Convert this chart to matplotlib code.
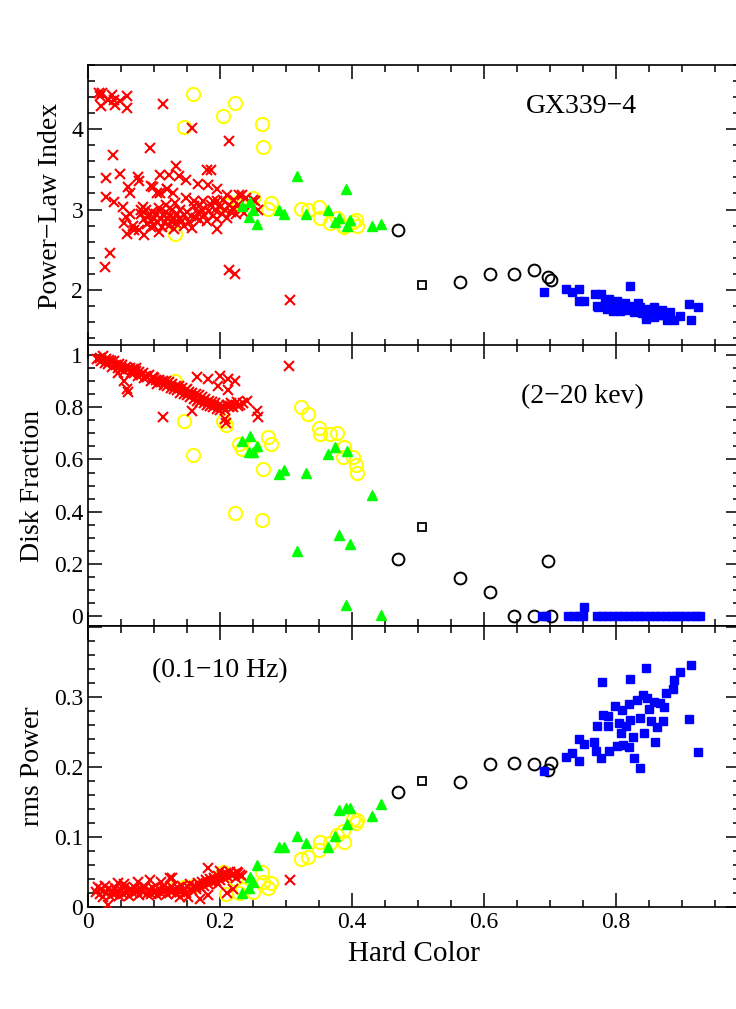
import matplotlib
matplotlib.use("Agg")
import matplotlib.pyplot as plt
from matplotlib.ticker import MultipleLocator

plt.rcParams['font.family'] = ['Liberation Serif', 'DejaVu Serif']

# ---------------- data ----------------
# black open circles (shared hard color)
bc_x = [0.469, 0.564, 0.609, 0.646, 0.675, 0.6965, 0.7015]
bc_idx = [2.745, 2.095, 2.20, 2.20, 2.25, 2.16, 2.12]
bc_disk = [0.22, 0.146, 0.092, 0.0, 0.0, 0.21, 0.0]
bc_rms = [0.164, 0.178, 0.204, 0.206, 0.204, 0.196, 0.205]

# black open square
bs_x = [0.506]
bs_idx = [2.06]
bs_disk = [0.342]
bs_rms = [0.180]

# green triangles
g_x = [0.234, 0.244, 0.245, 0.250, 0.256, 0.289, 0.297, 0.317, 0.331, 0.363,
       0.374, 0.381, 0.391, 0.393, 0.397, 0.430, 0.4435]
g_idx = [3.045, 2.91, 3.09, 3.00, 2.82, 2.995, 2.94, 3.42, 2.95, 2.995,
         2.845, 2.895, 3.25, 2.80, 2.87, 2.795, 2.825]
g_disk = [0.672, 0.629, 0.691, 0.627, 0.65, 0.543, 0.559, 0.251, 0.547, 0.620,
          0.648, 0.31, 0.043, 0.632, 0.277, 0.466, 0.004]
g_rms = [0.0205, 0.027, 0.043, 0.035, 0.06, 0.086, 0.085, 0.101, 0.091, 0.085,
         0.101, 0.139, 0.141, 0.119, 0.141, 0.13, 0.147]

# yellow open circles
y_x = [0.1586, 0.146, 0.205, 0.222, 0.264, 0.265, 0.132, 0.229, 0.2505, 0.277,
       0.273, 0.2086, 0.234, 0.322, 0.333, 0.350, 0.3515, 0.366, 0.377, 0.388,
       0.387, 0.402, 0.406, 0.407]
y_idx = [4.44, 4.03, 4.17, 4.33, 4.06, 3.78, 2.70, 3.10, 3.14, 3.08,
         3.01, 3.05, 3.06, 3.01, 3.00, 3.03, 2.895, 2.83, 2.89, 2.78,
         2.80, 2.85, 2.875, 2.79]
y_disk = [0.617, 0.748, 0.748, 0.397, 0.37, 0.563, 0.90, 0.661, 0.646, 0.661,
          0.687, 0.732, 0.642, 0.801, 0.774, 0.719, 0.697, 0.698, 0.70, 0.646,
          0.611, 0.61, 0.578, 0.547]
y_rms = [0.030, 0.029, 0.050, 0.040, 0.050, 0.035, 0.027, 0.0195, 0.022, 0.034,
         0.027, 0.0186, 0.025, 0.068, 0.071, 0.081, 0.093, 0.091, 0.103, 0.093,
         0.108, 0.125, 0.120, 0.124]

# red crosses - panel 1 (power-law index)
r1_x = [0.016, 0.021, 0.018, 0.036, 0.039, 0.041, 0.019, 0.059, 0.059, 0.048, 0.031,
        0.113, 0.157, 0.214, 0.094, 0.038, 0.028, 0.048, 0.061, 0.063, 0.028, 0.040,
        0.053, 0.076, 0.078, 0.109, 0.123, 0.133, 0.138, 0.149, 0.167, 0.180, 0.186,
        0.182, 0.195, 0.210, 0.096, 0.109, 0.120, 0.129, 0.149, 0.161, 0.174, 0.196,
        0.205, 0.234, 0.221, 0.240, 0.253, 0.258, 0.057, 0.054, 0.068, 0.059, 0.078,
        0.084, 0.034, 0.026, 0.213, 0.222, 0.306, 0.158, 0.196, 0.064, 0.069, 0.081,
        0.085, 0.098, 0.104, 0.119,
        0.080, 0.085, 0.088, 0.090, 0.092, 0.095, 0.097, 0.100, 0.100, 0.103, 0.105,
        0.107, 0.110, 0.112, 0.114, 0.116, 0.118, 0.120, 0.122, 0.124, 0.126, 0.128,
        0.130, 0.133, 0.135, 0.138, 0.140, 0.143, 0.146, 0.150, 0.153, 0.156, 0.160,
        0.163, 0.166, 0.170, 0.173, 0.176, 0.180, 0.183, 0.186, 0.190, 0.193, 0.196,
        0.200, 0.203, 0.207, 0.210, 0.213, 0.217, 0.220, 0.224, 0.228, 0.232, 0.236,
        0.245, 0.250, 0.132, 0.118, 0.095, 0.108, 0.131, 0.145, 0.170, 0.190, 0.229]
r1_y = [4.45, 4.45, 4.42, 4.43, 4.36, 4.30, 4.29, 4.42, 4.26, 4.35, 4.37,
        4.31, 4.01, 3.85, 3.76, 3.68, 3.39, 3.44, 3.28, 3.20, 3.16, 3.09,
        3.03, 3.41, 3.36, 3.43, 3.43, 3.54, 3.42, 3.37, 3.32, 3.49, 3.49,
        3.30, 3.26, 3.18, 3.29, 3.20, 3.26, 3.20, 3.14, 3.10, 3.11, 3.10,
        3.12, 3.18, 3.12, 3.14, 3.11, 3.00, 2.91, 2.83, 2.80, 2.70, 2.74,
        3.03, 2.46, 2.28, 2.25, 2.20, 1.87, 2.77, 2.76, 2.95, 2.75, 2.99,
        2.68, 3.28, 3.20, 3.25,
        2.95, 2.88, 3.00, 2.82, 2.92, 2.86, 2.97, 2.90, 2.80, 2.94, 2.85,
        3.02, 2.88, 2.78, 2.93, 2.84, 2.97, 2.89, 2.80, 2.92, 2.86, 2.99,
        2.90, 2.83, 2.95, 2.88, 3.00, 2.86, 2.93, 2.97, 2.85, 2.92, 3.04,
        2.89, 2.96, 2.87, 3.00, 2.93, 2.86, 2.98, 3.05, 2.92, 2.99, 2.88,
        3.03, 2.95, 3.00, 2.90, 3.05, 2.97, 3.02, 2.94, 3.06, 3.00, 2.96,
        3.08, 3.12, 3.08, 3.05, 2.78, 2.72, 2.76, 2.80, 3.06, 3.10, 3.18]

# red crosses - panel 2 (disk fraction)
r2_x = [0.014, 0.018, 0.020, 0.022, 0.025, 0.027, 0.030, 0.032, 0.035, 0.037,
        0.040, 0.042, 0.045, 0.047, 0.050, 0.052, 0.055, 0.058, 0.060, 0.063,
        0.065, 0.068, 0.070, 0.073, 0.075, 0.078, 0.080, 0.083, 0.085, 0.088,
        0.090, 0.093, 0.095, 0.098, 0.100, 0.103, 0.105, 0.108, 0.110, 0.113,
        0.115, 0.118, 0.120, 0.123, 0.125, 0.128, 0.130, 0.133, 0.135, 0.138,
        0.140, 0.143, 0.145, 0.148, 0.150, 0.153, 0.155, 0.158, 0.160, 0.163,
        0.165, 0.168, 0.170, 0.173, 0.175, 0.178, 0.180, 0.183, 0.185, 0.188,
        0.190, 0.193, 0.195, 0.198, 0.200, 0.203, 0.205, 0.208, 0.210, 0.213,
        0.216, 0.220, 0.225, 0.230, 0.235,
        0.054, 0.0586, 0.061, 0.1132, 0.157, 0.1647, 0.182, 0.200, 0.2126, 0.222,
        0.1975, 0.2126, 0.2076, 0.209, 0.2556, 0.258, 0.305, 0.2404, 0.2277, 0.045,
        0.072, 0.150]
r2_y = [0.985, 0.990, 0.975, 0.995, 0.970, 0.985, 0.965, 0.980, 0.975, 0.955,
        0.975, 0.960, 0.950, 0.965, 0.945, 0.960, 0.940, 0.955, 0.945, 0.950,
        0.930, 0.945, 0.930, 0.940, 0.920, 0.935, 0.925, 0.930, 0.910, 0.920,
        0.915, 0.925, 0.900, 0.915, 0.910, 0.905, 0.890, 0.905, 0.895, 0.900,
        0.885, 0.900, 0.880, 0.895, 0.875, 0.890, 0.870, 0.880, 0.865, 0.880,
        0.855, 0.875, 0.850, 0.865, 0.845, 0.860, 0.840, 0.855, 0.830, 0.850,
        0.825, 0.845, 0.820, 0.840, 0.815, 0.830, 0.810, 0.825, 0.805, 0.820,
        0.800, 0.815, 0.795, 0.810, 0.790, 0.805, 0.800, 0.790, 0.810, 0.800,
        0.815, 0.800, 0.820, 0.810, 0.815,
        0.900, 0.870, 0.860, 0.762, 0.787, 0.915, 0.909, 0.918, 0.909, 0.900,
        0.883, 0.864, 0.755, 0.740, 0.787, 0.764, 0.956, 0.825, 0.806, 0.930,
        0.950, 0.870]

# red crosses - panel 3 (rms power)
r3_x = [0.012, 0.015, 0.018, 0.020, 0.023, 0.026, 0.028, 0.030, 0.033, 0.036,
        0.038, 0.041, 0.044, 0.047, 0.050, 0.053, 0.056, 0.059, 0.062, 0.065,
        0.068, 0.071, 0.074, 0.077, 0.080, 0.083, 0.086, 0.089, 0.092, 0.095,
        0.098, 0.101, 0.104, 0.107, 0.110, 0.113, 0.116, 0.119, 0.122, 0.125,
        0.128, 0.131, 0.134, 0.137, 0.140, 0.143, 0.146, 0.149, 0.152, 0.155,
        0.158, 0.161, 0.164, 0.167, 0.170, 0.173, 0.176, 0.179, 0.182, 0.185,
        0.188, 0.191, 0.194, 0.197, 0.200, 0.203, 0.206, 0.209, 0.212, 0.215,
        0.218, 0.221, 0.224, 0.227, 0.230, 0.233,
        0.030, 0.094, 0.124, 0.128, 0.182, 0.226, 0.306, 0.055, 0.075, 0.152,
        0.1825, 0.163, 0.197, 0.210, 0.219, 0.200, 0.170, 0.046, 0.110, 0.140]
r3_y = [0.022, 0.028, 0.018, 0.025, 0.014, 0.030, 0.020, 0.026, 0.016, 0.023,
        0.019, 0.027, 0.021, 0.015, 0.024, 0.018, 0.028, 0.022, 0.016, 0.025,
        0.020, 0.027, 0.023, 0.017, 0.026, 0.021, 0.029, 0.019, 0.024, 0.018,
        0.027, 0.022, 0.017, 0.025, 0.020, 0.028, 0.023, 0.018, 0.026, 0.021,
        0.029, 0.024, 0.019, 0.027, 0.022, 0.030, 0.025, 0.020, 0.028, 0.033,
        0.024, 0.030, 0.026, 0.034, 0.028, 0.036, 0.030, 0.038, 0.033, 0.040,
        0.035, 0.042, 0.037, 0.044, 0.039, 0.046, 0.041, 0.048, 0.043, 0.050,
        0.045, 0.047, 0.042, 0.049, 0.046, 0.044,
        0.003, 0.0386, 0.042, 0.041, 0.055, 0.0496, 0.0386, 0.033, 0.035, 0.0147,
        0.017, 0.028, 0.033, 0.020, 0.025, 0.052, 0.012, 0.034, 0.036, 0.014]

# blue squares - panel 1
b1_x = [0.691, 0.724, 0.734, 0.744, 0.744, 0.752, 0.768, 0.778, 0.771, 0.821,
        0.845, 0.862, 0.877, 0.888, 0.897, 0.910, 0.924, 0.913,
        0.773, 0.783, 0.788, 0.793, 0.798, 0.803, 0.809, 0.814, 0.819, 0.826,
        0.831, 0.837, 0.843, 0.850, 0.857, 0.863, 0.869, 0.874, 0.879, 0.882,
        0.786, 0.796, 0.806, 0.816, 0.828, 0.833, 0.846, 0.858, 0.866, 0.790,
        0.801, 0.812, 0.822, 0.840, 0.852]
b1_y = [1.97, 2.01, 1.97, 2.01, 1.86, 1.86, 1.95, 1.95, 1.80, 2.045,
        1.64, 1.68, 1.625, 1.62, 1.67, 1.825, 1.78, 1.625,
        1.79, 1.87, 1.78, 1.84, 1.77, 1.83, 1.78, 1.84, 1.76, 1.79,
        1.74, 1.78, 1.73, 1.76, 1.78, 1.73, 1.75, 1.69, 1.66, 1.72,
        1.76, 1.74, 1.73, 1.75, 1.72, 1.83, 1.69, 1.66, 1.68, 1.89,
        1.86, 1.81, 1.80, 1.71, 1.70]

# blue squares - panel 2
b2_x = [0.688, 0.694, 0.728, 0.736, 0.744, 0.750, 0.752, 0.771, 0.779, 0.787,
        0.795, 0.803, 0.811, 0.819, 0.827, 0.835, 0.843, 0.851, 0.859, 0.867,
        0.875, 0.883, 0.891, 0.897, 0.905, 0.913, 0.921, 0.928]
b2_y = [0.0, 0.0, 0.0, 0.0, 0.0, 0.0, 0.035, 0.0, 0.0, 0.0,
        0.0, 0.0, 0.0, 0.0, 0.0, 0.0, 0.0, 0.0, 0.0, 0.0,
        0.0, 0.0, 0.0, 0.0, 0.0, 0.0, 0.0, 0.0]

# blue squares - panel 3
b3_x = [0.691, 0.724, 0.734, 0.744, 0.744, 0.752, 0.767, 0.770, 0.778, 0.771,
        0.779, 0.821, 0.845, 0.913, 0.897, 0.888, 0.886, 0.910, 0.924, 0.836,
        0.828, 0.790, 0.801, 0.811, 0.820, 0.825, 0.807, 0.815, 0.821, 0.836,
        0.843, 0.859, 0.853, 0.862, 0.871, 0.872, 0.876, 0.781, 0.788, 0.798,
        0.809, 0.819, 0.832, 0.841, 0.847, 0.857, 0.866, 0.850, 0.788, 0.805]
b3_y = [0.194, 0.214, 0.220, 0.208, 0.240, 0.233, 0.235, 0.223, 0.212, 0.259,
        0.321, 0.325, 0.341, 0.346, 0.335, 0.324, 0.311, 0.268, 0.221, 0.199,
        0.213, 0.222, 0.230, 0.231, 0.229, 0.242, 0.249, 0.259, 0.267, 0.270,
        0.248, 0.236, 0.266, 0.257, 0.266, 0.285, 0.306, 0.274, 0.272, 0.287,
        0.281, 0.290, 0.296, 0.303, 0.298, 0.293, 0.291, 0.282, 0.258, 0.262]

panel_ylabels = ["Power\u2212Law Index", "Disk Fraction", "rms Power"]
x_label = "Hard Color"
notes = ["GX339\u22124", "(2\u221220 kev)", "(0.1\u221210 Hz)"]


def fmt_num(v, pos):
    if abs(v) < 1e-9:
        return '0'
    if abs(v - round(v)) < 1e-9:
        return str(int(round(v)))
    return f'{v:.1f}'


def fmt_rms(v, pos):
    if v > 0.35:
        return ''
    return fmt_num(v, pos)


# ---------------- figure ----------------
W, H = 736, 1009
fig = plt.figure(figsize=(W / 100, H / 100), dpi=100)

left = 88 / W
width = (740 - 88) / W
ph = 281 / H
bottoms = [1 - 346 / H, 1 - 626 / H, 1 - 907 / H]
ylims = [(1.30, 4.80), (-0.037, 1.038), (0.0, 0.401)]
ymaj = [1.0, 0.2, 0.1]
ymin = [0.2, 0.05, 0.02]

panels = [
    dict(r=(r1_x, r1_y), y=y_idx, g=g_idx, bc=bc_idx, bs=bs_idx, b=(b1_x, b1_y)),
    dict(r=(r2_x, r2_y), y=y_disk, g=g_disk, bc=bc_disk, bs=bs_disk, b=(b2_x, b2_y)),
    dict(r=(r3_x, r3_y), y=y_rms, g=g_rms, bc=bc_rms, bs=bs_rms, b=(b3_x, b3_y)),
]
note_pos = [(0.748, 4.28), (0.749, 0.84), (0.20, 0.337)]

for i, p in enumerate(panels):
    ax = fig.add_axes([left, bottoms[i], width, ph])
    ax.plot(y_x, p['y'], 'o', ms=9.5, mfc='none', mec='#ffff00', mew=1.5, zorder=2)
    ax.plot(p['r'][0], p['r'][1], 'x', ms=6.5, color='#ff0000', mew=1.5, zorder=3)
    ax.plot(g_x, p['g'], '^', ms=6.8, color='#00ff00', mec='#00ff00', zorder=4)
    ax.plot(bc_x, p['bc'], 'o', ms=8.5, mfc='none', mec='black', mew=1.4, zorder=5)
    ax.plot(bs_x, p['bs'], 's', ms=6.0, mfc='none', mec='black', mew=1.3, zorder=5)
    ax.plot(p['b'][0], p['b'][1], 's', ms=5.6, color='#0000ff', mec='#0000ff', zorder=6)

    ax.set_xlim(0, (740 - 88) / 660)
    ax.set_ylim(*ylims[i])
    ax.xaxis.set_major_locator(MultipleLocator(0.2))
    ax.xaxis.set_minor_locator(MultipleLocator(0.05))
    ax.yaxis.set_major_locator(MultipleLocator(ymaj[i]))
    ax.yaxis.set_minor_locator(MultipleLocator(ymin[i]))
    ax.tick_params(which='both', direction='in', top=True, right=True, width=1.1,
                   labelsize=17)
    ax.tick_params(which='major', length=10)
    ax.tick_params(which='minor', length=5)
    for s in ax.spines.values():
        s.set_linewidth(1.2)
    ax.set_ylabel(panel_ylabels[i], fontsize=20, labelpad=6)
    ax.yaxis.set_major_formatter(plt.FuncFormatter(fmt_rms if i == 2 else fmt_num))
    if i == 2:
        ax.xaxis.set_major_formatter(plt.FuncFormatter(fmt_num))
        ax.set_xlabel(x_label, fontsize=21, labelpad=6)
    else:
        ax.tick_params(labelbottom=False)
    ax.text(note_pos[i][0], note_pos[i][1], notes[i], fontsize=20,
            ha='center', va='center')

fig.savefig("out.png", dpi=100)
